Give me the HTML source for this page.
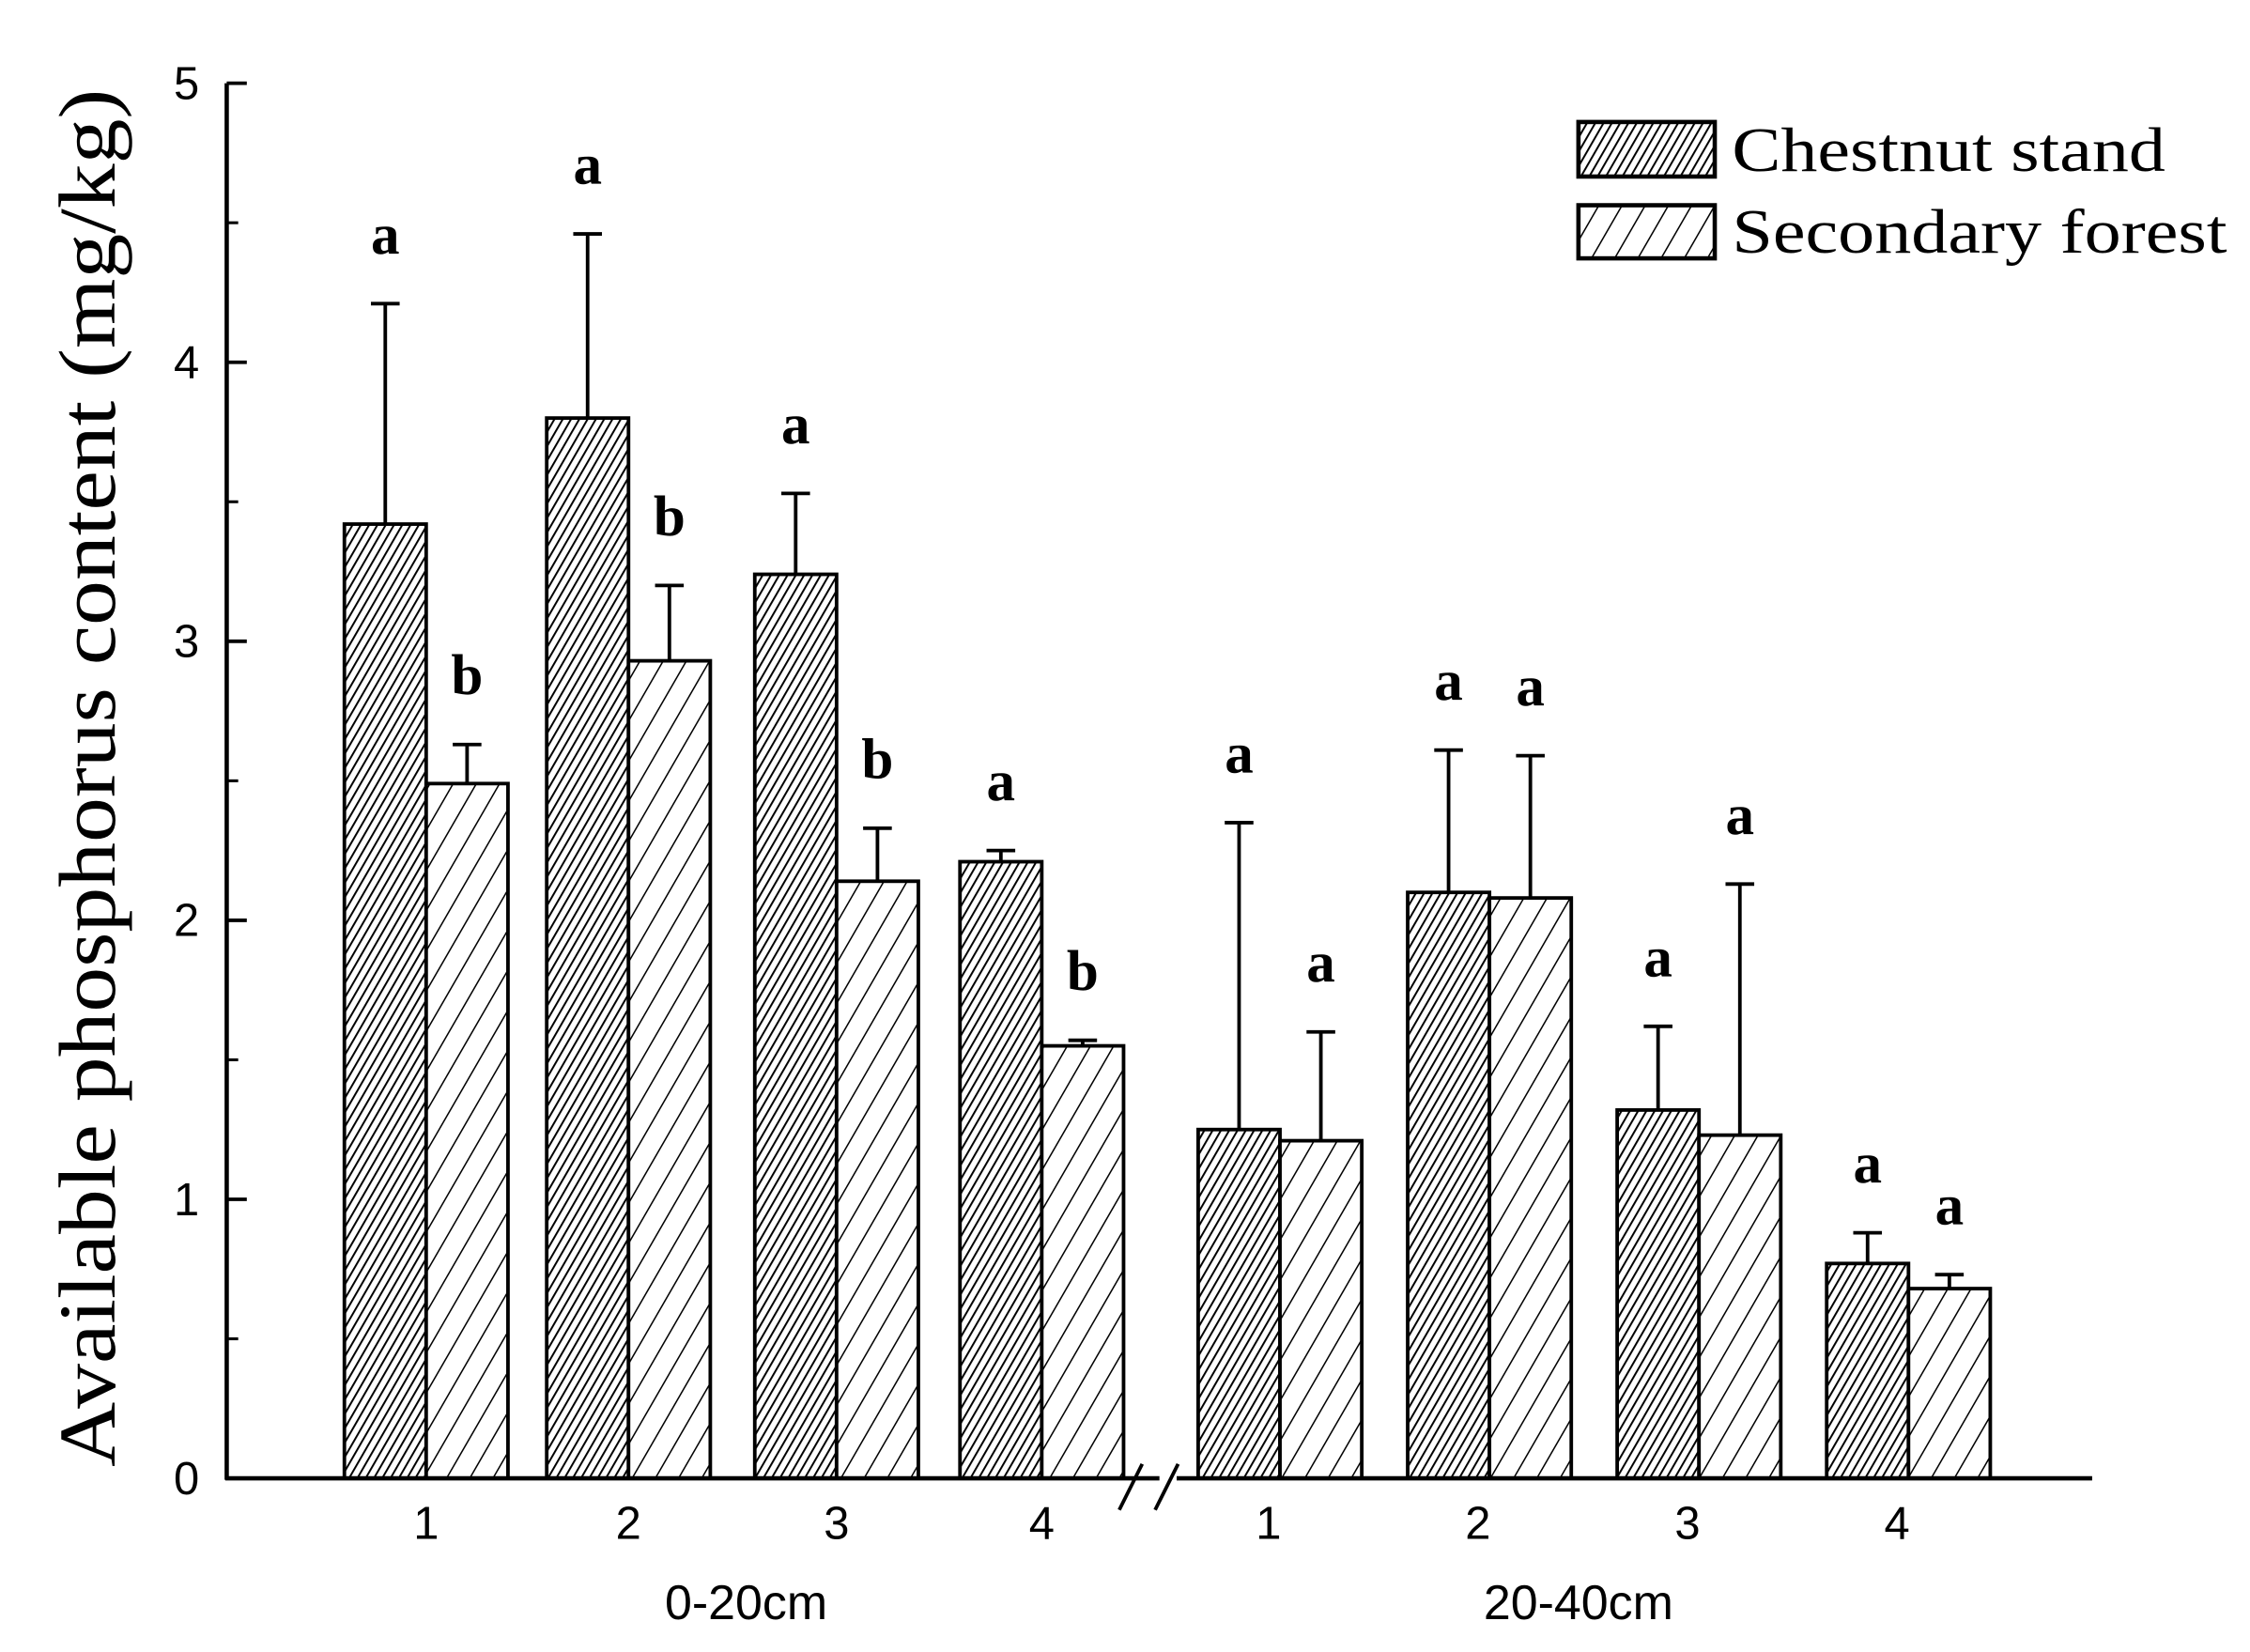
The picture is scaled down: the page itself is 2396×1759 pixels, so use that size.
<!DOCTYPE html>
<html><head><meta charset="utf-8"><style>
html,body{margin:0;padding:0;background:#fff;}
svg{display:block;}
text{fill:#000;}
</style></head><body>
<svg id="chart" width="2396" height="1759" viewBox="0 0 1568 1151" preserveAspectRatio="none" xmlns="http://www.w3.org/2000/svg">
<defs>
<pattern id="pDense" width="5" height="5" patternUnits="userSpaceOnUse" patternTransform="rotate(30)">
<rect width="5" height="5" fill="#fff"/><line x1="0" y1="0" x2="0" y2="5" stroke="#000" stroke-width="2.6"/>
</pattern>
<pattern id="pSparse" width="14" height="14" patternUnits="userSpaceOnUse" patternTransform="rotate(30)">
<rect width="14" height="14" fill="#fff"/><line x1="0" y1="0" x2="0" y2="14" stroke="#000" stroke-width="2"/>
</pattern>
</defs>
<g id="plot"></g>
<text transform="translate(80,542) rotate(-90)" text-anchor="middle" font-family="Liberation Serif, serif" font-size="56" textLength="960" lengthAdjust="spacingAndGlyphs">Available phosphorus content (mg/kg)</text>
<g>
<rect x="1100" y="85" width="95" height="38" fill="url(#pDense)" stroke="#000" stroke-width="3"/>
<text x="1207" y="119" font-family="Liberation Serif, serif" font-size="44" textLength="302" lengthAdjust="spacingAndGlyphs">Chestnut stand</text>
<rect x="1100" y="143" width="95" height="37" fill="url(#pSparse)" stroke="#000" stroke-width="3"/>
<text x="1207" y="176" font-family="Liberation Serif, serif" font-size="44" textLength="345" lengthAdjust="spacingAndGlyphs">Secondary forest</text>
</g>
</svg>
<script>
const categories = ["1","2","3","4","1","2","3","4"];
const depthGroups = ["0-20cm","20-40cm"];
const chestnutValues = [3.42,3.80,3.24,2.21,1.25,2.10,1.32,0.77];
const chestnutErrTop = [4.21,4.46,3.53,2.25,2.35,2.61,1.62,0.88];
const secondaryValues = [2.49,2.93,2.14,1.55,1.21,2.08,1.23,0.68];
const secondaryErrTop = [2.63,3.20,2.33,1.57,1.60,2.59,2.13,0.73];
const chestnutLetters = ["a","a","a","a","a","a","a","a"];
const secondaryLetters = ["b","b","b","b","a","a","a","a"];
const yTicks = [0,1,2,3,4,5];

const NS="http://www.w3.org/2000/svg";
const g=document.getElementById('plot');
const X0=158, XEND=1458, Y0=1030, YTOP=58;
const y=v=>Y0-(v/5)*(Y0-YTOP);
const centers=[297,438,583,726,892,1038,1184,1330];
const xc=i=>centers[i];
const BW=57;
function el(tag,attrs,parent){const e=document.createElementNS(NS,tag);for(const k in attrs)e.setAttribute(k,attrs[k]);(parent||g).appendChild(e);return e;}

categories.forEach((c,i)=>{
  const cx=xc(i);
  [[chestnutValues,chestnutErrTop,chestnutLetters,'url(#pDense)',cx-BW,'chestnut'],[secondaryValues,secondaryErrTop,secondaryLetters,'url(#pSparse)',cx,'secondary']].forEach(s=>{
    const [vals,errs,lets,fill,x,name]=s;
    const r=el('rect',{x:x,y:y(vals[i]),width:BW,height:Y0-y(vals[i]),fill:fill,stroke:'#000','stroke-width':2.5});
    
    
    const m=x+BW/2;
    const e1=el('line',{x1:m,x2:m,y1:y(vals[i]),y2:y(errs[i]),stroke:'#000','stroke-width':2.5});
    
    
    const e2=el('line',{x1:m-10,x2:m+10,y1:y(errs[i]),y2:y(errs[i]),stroke:'#000','stroke-width':2.5});
    
    
    const t=el('text',{x:m,y:y(errs[i])-35,'text-anchor':'middle','font-family':'Liberation Serif, serif','font-size':40,'font-weight':'bold'});
    t.textContent=lets[i];
    
    
  });
  const tl=el('text',{x:i<4?cx:cx-8,y:1072,'text-anchor':'middle','font-family':'Liberation Sans, sans-serif','font-size':32});
  tl.textContent=c;
  
  
});
const ya=el('line',{x1:X0,x2:X0,y1:YTOP,y2:Y0+1,stroke:'#000','stroke-width':3});


const xa1=el('line',{x1:X0-1,x2:808,y1:Y0,y2:Y0,stroke:'#000','stroke-width':3});


const xa2=el('line',{x1:820,x2:XEND,y1:Y0,y2:Y0,stroke:'#000','stroke-width':3});


[[780,1052,796,1020],[805,1052,821,1020]].forEach(p=>{
  const b=el('line',{x1:p[0],y1:p[1],x2:p[2],y2:p[3],stroke:'#000','stroke-width':2.5});
  
  
});
yTicks.forEach(v=>{
  const t=el('line',{x1:X0,x2:X0+14,y1:y(v),y2:y(v),stroke:'#000','stroke-width':2.5});
  
  
  const l=el('text',{x:130,y:y(v)+11,'text-anchor':'middle','font-family':'Liberation Sans, sans-serif','font-size':32});
  l.textContent=v;
  
  
  if(v<5){
    const m=el('line',{x1:X0,x2:X0+8,y1:y(v+0.5),y2:y(v+0.5),stroke:'#000','stroke-width':2});
    
    
  }
});
[[520,depthGroups[0]],[1100,depthGroups[1]]].forEach(d=>{
  const t=el('text',{x:d[0],y:1128,'text-anchor':'middle','font-family':'Liberation Sans, sans-serif','font-size':34});
  t.textContent=d[1];
  
  
});
</script>
</body></html>
